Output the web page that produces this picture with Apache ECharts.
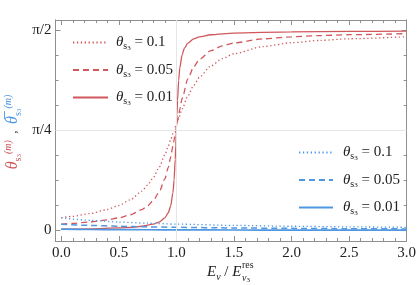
<!DOCTYPE html>
<html><head><meta charset="utf-8">
<script src="https://cdn.jsdelivr.net/npm/echarts@6/dist/echarts.min.js"></script>
<style>html,body{margin:0;padding:0;background:#fff}#c{width:419px;height:285px}</style>
</head><body><div id="c"></div>
<script>
// ---- data ----
const xR1 = [0, 0.1, 0.25, 0.4, 0.5, 0.6, 0.7, 0.75, 0.8, 0.85, 0.9, 0.93, 0.95, 0.97, 0.98, 1.0, 1.02, 1.05, 1.1, 1.15, 1.2, 1.3, 1.4, 1.5, 1.75, 2.0, 2.25, 2.5, 3.0];
const yR1 = [0.1000, 0.1110, 0.1329, 0.1650, 0.1964, 0.2410, 0.3085, 0.3562, 0.4172, 0.4956, 0.5939, 0.6621, 0.7103, 0.7601, 0.7854, 0.8354, 0.8846, 0.9547, 1.0570, 1.1393, 1.2035, 1.2930, 1.3499, 1.3883, 1.4445, 1.4746, 1.4932, 1.5058, 1.5218];
const xR2 = [0, 0.1, 0.25, 0.4, 0.5, 0.6, 0.7, 0.75, 0.8, 0.85, 0.9, 0.93, 0.95, 0.97, 0.98, 0.99, 0.995, 1.0, 1.01, 1.02, 1.03, 1.05, 1.1, 1.15, 1.2, 1.3, 1.4, 1.5, 1.75, 2.0, 2.25, 2.5, 3.0];
const yR2 = [0.0500, 0.0555, 0.0666, 0.0831, 0.0995, 0.1238, 0.1632, 0.1936, 0.2366, 0.3015, 0.4051, 0.4965, 0.5737, 0.6629, 0.7108, 0.7604, 0.7854, 0.8104, 0.8600, 0.9079, 0.9543, 1.0373, 1.1907, 1.2848, 1.3442, 1.4126, 1.4500, 1.4732, 1.5051, 1.5213, 1.5311, 1.5377, 1.5459];
const xR3 = [0, 0.25, 0.5, 0.6, 0.7, 0.8, 0.85, 0.9, 0.93, 0.95, 0.97, 0.98, 0.99, 0.995, 1.0, 1.005, 1.01, 1.02, 1.03, 1.05, 1.07, 1.1, 1.15, 1.2, 1.3, 1.5, 2.0, 2.5, 3.0];
const yR3 = [0.0100, 0.0133, 0.0200, 0.0250, 0.0333, 0.0499, 0.0664, 0.0989, 0.1395, 0.1908, 0.2955, 0.3952, 0.5578, 0.6674, 0.7904, 0.9123, 1.0212, 1.1806, 1.2784, 1.3813, 1.4320, 1.4723, 1.5046, 1.5210, 1.5375, 1.5508, 1.5608, 1.5641, 1.5658];
const xB = [0, 0.25, 0.5, 0.75, 1.0, 1.5, 2.0, 2.5, 3.0];
const yB1 = [0.1000, 0.0801, 0.0667, 0.0572, 0.0500, 0.0400, 0.0333, 0.0285, 0.0249];
const yB2 = [0.0500, 0.0400, 0.0333, 0.0286, 0.0250, 0.0200, 0.0167, 0.0143, 0.0125];
const yB3 = [0.0100, 0.0080, 0.0067, 0.0057, 0.0050, 0.0040, 0.0033, 0.0029, 0.0025];
const thetaLabels = ['0.1', '0.05', '0.01'];
const xMajorTicks = [0, 0.5, 1.0, 1.5, 2.0, 2.5, 3.0];
const xMinorTicks = [0.1,0.2,0.3,0.4,0.6,0.7,0.8,0.9,1.1,1.2,1.3,1.4,1.6,1.7,1.8,1.9,2.1,2.2,2.3,2.4,2.6,2.7,2.8,2.9];
const yMajorTicks = [0, Math.PI/4, Math.PI/2];
const yTickLabels = ['0', 'π/4', 'π/2'];
const yMinorTicks = [1,2,3,5,6,7].map(k => k*Math.PI/16);
const gridX = [1.0];
const gridY = [Math.PI/4];

// ---- style ----
const RED = '#d0585c', BLUE = '#4f97e3', FRAME = '#8f8f8f';
const FONT = 'Liberation Serif';
const XMIN = -0.05, XMAX = 3.0, YMIN = -0.0825, YMAX = 1.6533;
const pairs = (xs, ys) => xs.map((x, i) => [x, ys[i]]);

function xAx(pos, ticks, len, label) {
  return {type:'value', position:pos, min:XMIN, max:XMAX, splitLine:{show:false},
    axisLine:{show:true, onZero:false, lineStyle:{color:FRAME, width:1}},
    axisTick:{show:true, inside:true, length:len, customValues:ticks, lineStyle:{color:FRAME}},
    axisLabel: label ? {show:true, customValues:ticks, formatter:v=>v.toFixed(1), fontFamily:FONT, fontSize:15, color:'#222', margin:5} : {show:false}};
}
function yAx(pos, ticks, len, label) {
  return {type:'value', position:pos, min:YMIN, max:YMAX, splitLine:{show:false},
    axisLine:{show:true, onZero:false, lineStyle:{color:FRAME, width:1}},
    axisTick:{show:true, inside:true, length:len, customValues:ticks, lineStyle:{color:FRAME}},
    axisLabel: label ? {show:true, customValues:ticks, fontFamily:FONT, fontSize:15, color:'#222', margin:4,
      formatter:v=>{let b=0;yMajorTicks.forEach((t,i)=>{if(Math.abs(t-v)<Math.abs(yMajorTicks[b]-v))b=i;});return yTickLabels[b];}} : {show:false}};
}

const legRich = {
  t:{fontFamily:FONT, fontSize:15, fontStyle:'italic', color:'#222', lineHeight:18, verticalAlign:'middle'},
  n:{fontFamily:FONT, fontSize:15, color:'#222', lineHeight:18, verticalAlign:'middle'},
  s:{fontFamily:FONT, fontSize:10, color:'#222', lineHeight:11, verticalAlign:'bottom'},
  ss:{fontFamily:FONT, fontSize:7, color:'#222', lineHeight:7, verticalAlign:'bottom'}
};
const legFmt = name => '{t|θ}{s|s}{ss|3}{n| = ' + thetaLabels[+name.slice(1)-1] + '}';

function line(name, data, color, type, width) {
  return {name, type:'line', data, symbol:'none', smooth:0.25, smoothMonotone:'x',
    lineStyle:{color, width, type}, itemStyle:{color}, z:3};
}

const chart = echarts.init(document.getElementById('c'), null, {renderer:'canvas'});
chart.setOption({
  animation:false,
  grid:{left:55.5, right:11, top:20, bottom:44},
  xAxis:[xAx('bottom', xMajorTicks, 5, true), xAx('bottom', xMinorTicks, 3, false),
         xAx('top', xMajorTicks, 5, false), xAx('top', xMinorTicks, 3, false)],
  yAxis:[yAx('left', yMajorTicks, 5, true), yAx('left', yMinorTicks, 3, false),
         yAx('right', yMajorTicks, 5, false), yAx('right', yMinorTicks, 3, false)],
  legend:[
    {data:['r1','r2','r3'], orient:'vertical', left:72, top:35, padding:0, itemWidth:35, itemHeight:14, itemGap:11,
     itemStyle:{opacity:0}, formatter:legFmt, textStyle:{rich:legRich, padding:[0,0,0,3]}, selectedMode:false},
    {data:['b1','b2','b3'], orient:'vertical', left:298, top:145, padding:0, itemWidth:34, itemHeight:14, itemGap:11,
     itemStyle:{opacity:0}, formatter:legFmt, textStyle:{rich:legRich, padding:[0,0,0,5]}, selectedMode:false}
  ],
  series:[
    {type:'line', data:[], z:1, silent:true,
     markLine:{silent:true, symbol:'none', label:{show:false}, lineStyle:{color:'#e6e6e6', type:'solid', width:1},
       data:[...gridX.map(v=>({xAxis:v})), ...gridY.map(v=>({yAxis:v}))]}},
    line('r1', pairs(xR1, yR1), RED, [1.3, 2.6], 1.3),
    line('r2', pairs(xR2, yR2), RED, [6, 4], 1.3),
    line('r3', pairs(xR3, yR3), RED, 'solid', 1.3),
    line('b1', pairs(xB, yB1), BLUE, [1.3, 2.6], 1.3),
    line('b2', pairs(xB, yB2), BLUE, [6, 4], 1.5),
    line('b3', pairs(xB, yB3), BLUE, 'solid', 1.7)
  ],
  graphic:[
    {type:'text', x:13, y:132, rotation:Math.PI/2, z:10,
     style:{align:'center', verticalAlign:'middle',
       text:'{r|θ}{rs|s}{rss|3}{rsp|(m)}{c|  ,  }{b|θ̅}{bs|s}{bss|3}{bsp|(m)}',
       rich:{
         r:{fontFamily:FONT, fontSize:16, fontStyle:'italic', fill:RED, lineHeight:20, verticalAlign:'middle'},
         rs:{fontFamily:FONT, fontSize:10, fill:RED, lineHeight:11, verticalAlign:'bottom'},
         rss:{fontFamily:FONT, fontSize:7, fill:RED, lineHeight:7, verticalAlign:'bottom'},
         rsp:{fontFamily:FONT, fontSize:10, fontStyle:'italic', fill:RED, lineHeight:12, verticalAlign:'top'},
         c:{fontFamily:FONT, fontSize:13, fill:'#444', lineHeight:20, verticalAlign:'middle'},
         b:{fontFamily:FONT, fontSize:16, fontStyle:'italic', fill:BLUE, lineHeight:20, verticalAlign:'middle'},
         bs:{fontFamily:FONT, fontSize:10, fill:BLUE, lineHeight:11, verticalAlign:'bottom'},
         bss:{fontFamily:FONT, fontSize:7, fill:BLUE, lineHeight:7, verticalAlign:'bottom'},
         bsp:{fontFamily:FONT, fontSize:10, fontStyle:'italic', fill:BLUE, lineHeight:12, verticalAlign:'top'}
       }}},
    {type:'text', x:207, y:272, z:10,
     style:{align:'left', verticalAlign:'middle', text:'{i|E}{s|ν}{n| / }{i|E}',
       rich:{i:{fontFamily:FONT, fontSize:15, fontStyle:'italic', fill:'#222', lineHeight:20, verticalAlign:'middle'},
             n:{fontFamily:FONT, fontSize:15, fill:'#222', lineHeight:20, verticalAlign:'middle'},
             s:{fontFamily:FONT, fontSize:10, fontStyle:'italic', fill:'#222', lineHeight:12, verticalAlign:'bottom'}}}},
    {type:'text', x:242, y:265, z:10,
     style:{align:'left', verticalAlign:'middle', text:'res', font:'10px "Liberation Serif"', fill:'#222'}},
    {type:'text', x:242, y:278, z:10,
     style:{align:'left', verticalAlign:'middle', text:'{s|ν}{ss|3}',
       rich:{s:{fontFamily:FONT, fontSize:10, fontStyle:'italic', fill:'#222', lineHeight:12, verticalAlign:'middle'},
             ss:{fontFamily:FONT, fontSize:7, fill:'#222', lineHeight:7, verticalAlign:'bottom'}}}}
  ]
});
</script></body></html>
